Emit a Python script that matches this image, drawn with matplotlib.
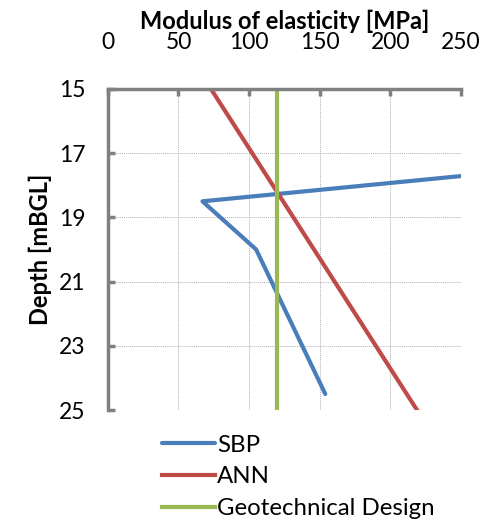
import matplotlib.pyplot as plt

# SBP profile (last point of the top segment lies beyond the axis and gets clipped)
sbp_modulus = [300, 67, 105, 154]
sbp_depth = [17.5, 18.5, 20.0, 24.5]

# ANN prediction
ann_modulus = [73, 219]
ann_depth = [15, 25]

# Geotechnical design value
geo_modulus = [120, 120]
geo_depth = [15, 25]

x_ticks = [0, 50, 100, 150, 200, 250]
y_ticks = [15, 17, 19, 21, 23, 25]

plt.rcParams['font.family'] = ['Lato', 'DejaVu Sans']

fig = plt.figure(figsize=(4.84, 5.23), dpi=100)
ax = fig.add_axes([0.223, 0.216, 0.729, 0.614])

ax.plot(sbp_modulus, sbp_depth, color='#4a7ebb', lw=3, label='SBP', solid_capstyle='round')
ax.plot(ann_modulus, ann_depth, color='#be4b48', lw=3, label='ANN')
ax.plot(geo_modulus, geo_depth, color='#98b954', lw=3, label='Geotechnical Design')

ax.set_xlim(0, 250)
ax.set_ylim(25, 15)
ax.set_xticks(x_ticks)
ax.set_yticks(y_ticks)
ax.xaxis.tick_top()
ax.xaxis.set_label_position('top')
ax.set_xlabel('Modulus of elasticity [MPa]', fontsize=17, fontweight='bold', labelpad=2)
ax.set_ylabel('Depth [mBGL]', fontsize=17, fontweight='bold', labelpad=5)

ax.grid(True, color='#b0b0b0', lw=0.7, ls=(0, (1, 1)))
for side in ['right', 'bottom']:
    ax.spines[side].set_visible(False)
for side in ['top', 'left']:
    ax.spines[side].set_color('#808080')
    ax.spines[side].set_linewidth(2.5)
ax.tick_params(direction='in', length=5, width=2.5, color='#808080', labelsize=16.5)
ax.tick_params(axis='x', pad=26)
ax.tick_params(axis='y', pad=16)

fig.legend(loc='upper left', bbox_to_anchor=(0.31, 0.192), frameon=False, fontsize=17.3,
           handlelength=2.2, handletextpad=0.1, labelspacing=0.45, borderpad=0)

fig.savefig('out.png', dpi=100)
